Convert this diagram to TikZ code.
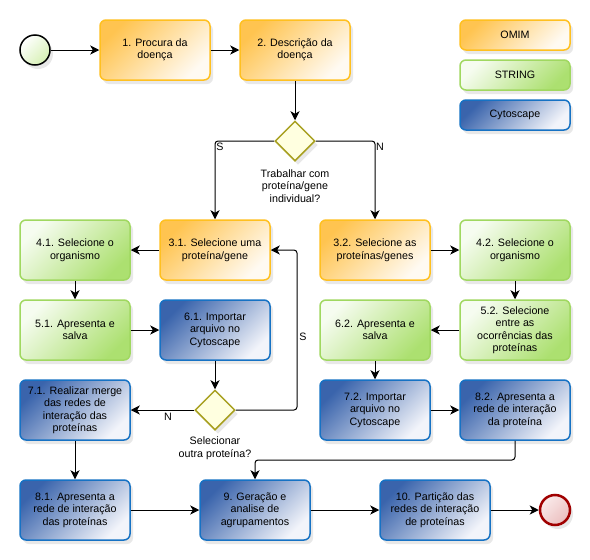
\documentclass[tikz,border=0pt]{standalone}
\usepackage{fontspec}
\setmainfont{Liberation Sans}
\setsansfont{Liberation Sans}
\usetikzlibrary{arrows.meta, shapes.geometric, shadows}

\definecolor{omimBorda}{RGB}{255,192,32}
\definecolor{omimTopo}{RGB}{255,196,80}
\definecolor{omimBase}{RGB}{255,250,242}
\definecolor{strBorda}{RGB}{160,216,96}
\definecolor{strTopo}{RGB}{246,252,240}
\definecolor{strBase}{RGB}{172,224,112}
\definecolor{cytBorda}{RGB}{22,114,196}
\definecolor{cytTopo}{RGB}{58,100,172}
\definecolor{cytBase}{RGB}{242,244,250}
\definecolor{decBorda}{RGB}{168,160,32}
\definecolor{decFundo}{RGB}{255,255,224}

\begin{document}
\begin{tikzpicture}[
    x=1pt, y=-1pt,
    every node/.style={font=\sffamily\fontsize{10.7}{12.5}\selectfont},
    >={Stealth[length=9pt,width=9pt,inset=2.5pt]},
    flow/.style={->, line width=1pt, black, rounded corners=3pt},
    sombra/.style={drop shadow={opacity=0.18, shadow xshift=3pt, shadow yshift=-4pt}},
    caixa/.style={rectangle, rounded corners=6pt, line width=1.5pt, minimum width=110pt,
        minimum height=60pt, align=center, inner sep=2pt, sombra},
    omim/.style={caixa, draw=omimBorda, top color=omimTopo, bottom color=omimBase, shading angle=45},
    string/.style={caixa, draw=strBorda, top color=strTopo, bottom color=strBase, shading angle=45},
    cyto/.style={caixa, draw=cytBorda, top color=cytTopo, bottom color=cytBase, shading angle=45},
    legenda/.style={minimum height=30pt},
    decisao/.style={diamond, draw=decBorda, fill=decFundo, line width=1.5pt, minimum width=40pt,
        minimum height=40pt, inner sep=0pt, sombra},
    rotulo/.style={align=center, inner sep=0pt},
]

% === Background and size ===
\fill[white] (0,0) rectangle (590,560);
\useasboundingbox (0,0) rectangle (590,560);

% === Legend ===
\node[omim, legenda] (legOmim) at (515,35) {OMIM};
\node[string, legenda] (legString) at (515,75) {STRING};
\node[cyto, legenda] (legCyto) at (515,115) {Cytoscape};

% === Start and first steps ===
\node[circle, draw={RGB:red,100;green,170;blue,40}, line width=1.5pt, minimum size=30pt,
    inner sep=0pt, top color=white, bottom color={rgb,255:red,214;green,240;blue,180},
    shading angle=45, sombra] (inicio) at (35,50) {};
\node[omim] (proc1) at (155,50) {1. Procura da\\doença};
\node[omim] (desc2) at (295,50) {2. Descrição da\\doença};

% === First decision ===
\node[decisao] (dec1) at (295,141) {};
\node[rotulo] (lblDec1) at (295,186) {Trabalhar com\\proteína/gene\\individual?};

% === Left branch (single protein) ===
\node[omim] (sel31) at (215,250) {3.1. Selecione uma\\proteína/gene};
\node[string] (org41) at (75,250) {4.1. Selecione o\\organismo};
\node[string] (apr51) at (75,330) {5.1. Apresenta e\\salva};
\node[cyto] (imp61) at (215,330) {6.1. Importar\\arquivo no\\Cytoscape};
\node[decisao] (dec2) at (215,410) {};
\node[rotulo] (lblDec2) at (215,448) {Selecionar\\outra proteína?};
\node[cyto] (mer71) at (75,410) {7.1. Realizar merge\\das redes de\\interação das\\proteínas};
\node[cyto] (apr81) at (75,510) {8.1. Apresenta a\\rede de interação\\das proteínas};

% === Right branch (several proteins) ===
\node[omim] (sel32) at (375,250) {3.2. Selecione as\\proteínas/genes};
\node[string] (org42) at (515,250) {4.2. Selecione o\\organismo};
\node[string] (sel52) at (515,330) {5.2. Selecione\\entre as\\ocorrências das\\proteínas};
\node[string] (apr62) at (375,330) {6.2. Apresenta e\\salva};
\node[cyto] (imp72) at (375,410) {7.2. Importar\\arquivo no\\Cytoscape};
\node[cyto] (apr82) at (515,410) {8.2. Apresenta a\\rede de interação\\da proteína};

% === Final steps ===
\node[cyto] (ger9) at (255,510) {9. Geração e\\analise de\\agrupamentos};
\node[cyto] (par10) at (435,510) {10. Partição das\\redes de interação\\de proteínas};
\node[circle, draw={rgb,255:red,160;green,0;blue,0}, line width=2.5pt, minimum size=30pt,
    inner sep=0pt, top color={rgb,255:red,250;green,235;blue,235},
    bottom color={rgb,255:red,235;green,190;blue,190}, shading angle=45, sombra] (fim) at (555,510) {};

% === Connectors ===
\draw[flow] (inicio) -- (proc1);
\draw[flow] (proc1) -- (desc2);
\draw[flow] (desc2) -- (dec1);
\draw[flow] (dec1) -| (sel31);
\draw[flow] (dec1) -| (sel32);
\node[rotulo] (lblS1) at (220,147) {S};
\node[rotulo] (lblN1) at (380,147) {N};

\draw[flow] (sel31) -- (org41);
\draw[flow] (org41) -- (apr51);
\draw[flow] (apr51) -- (imp61);
\draw[flow] (imp61) -- (dec2);
\draw[flow] (dec2) -- (mer71);
\node[rotulo] (lblN2) at (168,417) {N};
\coordinate (volta) at (297,330);
\draw[flow] (dec2) -| (volta) |- (sel31);
\node[rotulo] (lblS2) at (303,337) {S};
\draw[flow] (mer71) -- (apr81);
\draw[flow] (apr81) -- (ger9);

\draw[flow] (sel32) -- (org42);
\draw[flow] (org42) -- (sel52);
\draw[flow] (sel52) -- (apr62);
\draw[flow] (apr62) -- (imp72);
\draw[flow] (imp72) -- (apr82);
\coordinate (desvio) at (515,460);
\draw[flow] (apr82) -- (desvio) -| (ger9);

\draw[flow] (ger9) -- (par10);
\draw[flow] (par10) -- (fim);

\end{tikzpicture}
\end{document}
